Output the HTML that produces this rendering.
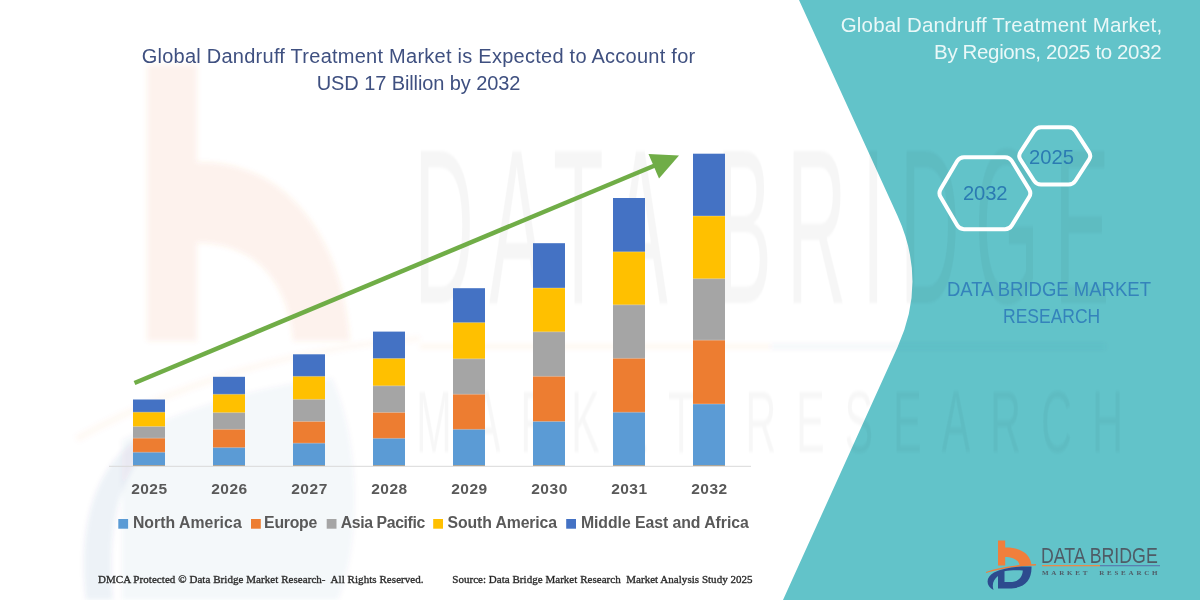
<!DOCTYPE html>
<html><head><meta charset="utf-8">
<style>
*{margin:0;padding:0;box-sizing:border-box}
html,body{width:1200px;height:600px;overflow:hidden;background:#fff}
body{position:relative;font-family:"Liberation Sans",sans-serif}
.abs{position:absolute;left:0;top:0}
.t{position:absolute;white-space:nowrap;line-height:1}
</style></head><body>
<svg class="abs" width="1200" height="600" viewBox="0 0 1200 600">
<path d="M799,0 L897.4,215.6 Q927.4,281.2 897.7,346.8 L783,600 L1200,600 L1200,0 Z" fill="#62C3C9"/>
<defs><filter id="bl" x="-20%" y="-20%" width="140%" height="140%"><feGaussianBlur stdDeviation="2.5"/></filter></defs>
<g filter="url(#bl)">
<rect x="147" y="65" width="50" height="276" fill="rgba(237,125,49,0.09)"/>
<path d="M197,162 C282,160 342,232 350,341 L293,341 C289,290 262,243 197,243 Z" fill="rgba(237,125,49,0.09)"/>
<path d="M75,436 Q230,350 420,336 L420,341 Q235,356 78,442 Z" fill="rgba(237,125,49,0.045)"/>
<path d="M86,600 C78,530 92,470 138,438 L140,458 C114,490 108,545 113,600 Z" fill="rgba(47,75,142,0.07)"/>
<path d="M122,600 L122,440 C190,405 262,386 332,378 C360,440 362,540 338,600 Z" fill="rgba(47,75,142,0.045)"/>
<rect x="420" y="344" width="350" height="5" fill="rgba(237,125,49,0.06)"/>
<rect x="770" y="344" width="335" height="5" fill="rgba(47,75,142,0.05)"/>
</g>
</svg>
<div class="t" id="w1" style="left:414.20px;top:117.00px;color:rgba(0,0,0,0.036);font-family:'Liberation Sans',sans-serif;font-size:220px;letter-spacing:40px;transform:scaleX(0.3766);transform-origin:0 0;filter:blur(1.5px)">DATA BRIDGE</div>
<div class="t" id="w2" style="left:416.46px;top:378.00px;color:rgba(0,0,0,0.03);font-family:'Liberation Sans',sans-serif;font-size:87px;letter-spacing:40px;transform:scaleX(0.4949);transform-origin:0 0;filter:blur(1.5px)">MARKET RESEARCH</div>
<svg class="abs" width="1200" height="600" viewBox="0 0 1200 600">
<line x1="109" y1="466.3" x2="751" y2="466.3" stroke="#D9D9D9" stroke-width="1"/>
<rect x="133" y="399.5" width="32" height="65.8" fill="#4472C4"/>
<rect x="133" y="412.2" width="32" height="53.1" fill="#FFC000"/>
<rect x="133" y="426.5" width="32" height="38.8" fill="#A5A5A5"/>
<rect x="133" y="438.2" width="32" height="27.1" fill="#ED7D31"/>
<rect x="133" y="452.3" width="32" height="13.0" fill="#5B9BD5"/>
<rect x="133" y="411.7" width="32" height="1" fill="rgba(255,255,255,0.28)"/>
<rect x="133" y="426.0" width="32" height="1" fill="rgba(255,255,255,0.28)"/>
<rect x="133" y="437.7" width="32" height="1" fill="rgba(255,255,255,0.28)"/>
<rect x="133" y="451.8" width="32" height="1" fill="rgba(255,255,255,0.28)"/>
<rect x="213" y="376.8" width="32" height="88.5" fill="#4472C4"/>
<rect x="213" y="394.3" width="32" height="71.0" fill="#FFC000"/>
<rect x="213" y="412.6" width="32" height="52.7" fill="#A5A5A5"/>
<rect x="213" y="429.4" width="32" height="35.9" fill="#ED7D31"/>
<rect x="213" y="447.6" width="32" height="17.7" fill="#5B9BD5"/>
<rect x="213" y="393.8" width="32" height="1" fill="rgba(255,255,255,0.28)"/>
<rect x="213" y="412.1" width="32" height="1" fill="rgba(255,255,255,0.28)"/>
<rect x="213" y="428.9" width="32" height="1" fill="rgba(255,255,255,0.28)"/>
<rect x="213" y="447.1" width="32" height="1" fill="rgba(255,255,255,0.28)"/>
<rect x="293" y="354.3" width="32" height="111.0" fill="#4472C4"/>
<rect x="293" y="376.4" width="32" height="88.9" fill="#FFC000"/>
<rect x="293" y="399.4" width="32" height="65.9" fill="#A5A5A5"/>
<rect x="293" y="421.5" width="32" height="43.8" fill="#ED7D31"/>
<rect x="293" y="443.2" width="32" height="22.1" fill="#5B9BD5"/>
<rect x="293" y="375.9" width="32" height="1" fill="rgba(255,255,255,0.28)"/>
<rect x="293" y="398.9" width="32" height="1" fill="rgba(255,255,255,0.28)"/>
<rect x="293" y="421.0" width="32" height="1" fill="rgba(255,255,255,0.28)"/>
<rect x="293" y="442.7" width="32" height="1" fill="rgba(255,255,255,0.28)"/>
<rect x="373" y="331.6" width="32" height="133.7" fill="#4472C4"/>
<rect x="373" y="358.5" width="32" height="106.8" fill="#FFC000"/>
<rect x="373" y="385.8" width="32" height="79.5" fill="#A5A5A5"/>
<rect x="373" y="412.5" width="32" height="52.8" fill="#ED7D31"/>
<rect x="373" y="438.4" width="32" height="26.9" fill="#5B9BD5"/>
<rect x="373" y="358.0" width="32" height="1" fill="rgba(255,255,255,0.28)"/>
<rect x="373" y="385.3" width="32" height="1" fill="rgba(255,255,255,0.28)"/>
<rect x="373" y="412.0" width="32" height="1" fill="rgba(255,255,255,0.28)"/>
<rect x="373" y="437.9" width="32" height="1" fill="rgba(255,255,255,0.28)"/>
<rect x="453" y="288.2" width="32" height="177.1" fill="#4472C4"/>
<rect x="453" y="322.6" width="32" height="142.7" fill="#FFC000"/>
<rect x="453" y="358.8" width="32" height="106.5" fill="#A5A5A5"/>
<rect x="453" y="394.3" width="32" height="71.0" fill="#ED7D31"/>
<rect x="453" y="429.4" width="32" height="35.9" fill="#5B9BD5"/>
<rect x="453" y="322.1" width="32" height="1" fill="rgba(255,255,255,0.28)"/>
<rect x="453" y="358.3" width="32" height="1" fill="rgba(255,255,255,0.28)"/>
<rect x="453" y="393.8" width="32" height="1" fill="rgba(255,255,255,0.28)"/>
<rect x="453" y="428.9" width="32" height="1" fill="rgba(255,255,255,0.28)"/>
<rect x="533" y="243.2" width="32" height="222.1" fill="#4472C4"/>
<rect x="533" y="288.0" width="32" height="177.3" fill="#FFC000"/>
<rect x="533" y="331.8" width="32" height="133.5" fill="#A5A5A5"/>
<rect x="533" y="376.4" width="32" height="88.9" fill="#ED7D31"/>
<rect x="533" y="421.5" width="32" height="43.8" fill="#5B9BD5"/>
<rect x="533" y="287.5" width="32" height="1" fill="rgba(255,255,255,0.28)"/>
<rect x="533" y="331.3" width="32" height="1" fill="rgba(255,255,255,0.28)"/>
<rect x="533" y="375.9" width="32" height="1" fill="rgba(255,255,255,0.28)"/>
<rect x="533" y="421.0" width="32" height="1" fill="rgba(255,255,255,0.28)"/>
<rect x="613" y="198.0" width="32" height="267.3" fill="#4472C4"/>
<rect x="613" y="251.8" width="32" height="213.5" fill="#FFC000"/>
<rect x="613" y="304.8" width="32" height="160.5" fill="#A5A5A5"/>
<rect x="613" y="358.4" width="32" height="106.9" fill="#ED7D31"/>
<rect x="613" y="412.3" width="32" height="53.0" fill="#5B9BD5"/>
<rect x="613" y="251.3" width="32" height="1" fill="rgba(255,255,255,0.28)"/>
<rect x="613" y="304.3" width="32" height="1" fill="rgba(255,255,255,0.28)"/>
<rect x="613" y="357.9" width="32" height="1" fill="rgba(255,255,255,0.28)"/>
<rect x="613" y="411.8" width="32" height="1" fill="rgba(255,255,255,0.28)"/>
<rect x="693" y="153.7" width="32" height="311.6" fill="#4472C4"/>
<rect x="693" y="216.0" width="32" height="249.3" fill="#FFC000"/>
<rect x="693" y="278.7" width="32" height="186.6" fill="#A5A5A5"/>
<rect x="693" y="340.2" width="32" height="125.1" fill="#ED7D31"/>
<rect x="693" y="404.0" width="32" height="61.3" fill="#5B9BD5"/>
<rect x="693" y="215.5" width="32" height="1" fill="rgba(255,255,255,0.28)"/>
<rect x="693" y="278.2" width="32" height="1" fill="rgba(255,255,255,0.28)"/>
<rect x="693" y="339.7" width="32" height="1" fill="rgba(255,255,255,0.28)"/>
<rect x="693" y="403.5" width="32" height="1" fill="rgba(255,255,255,0.28)"/>
<line x1="134.5" y1="383" x2="656" y2="165" stroke="#70AD47" stroke-width="4.5"/>
<polygon points="648.5,154 679,155.5 659,178.5" fill="#70AD47"/>
<rect x="118.3" y="519" width="9.8" height="9.7" fill="#5B9BD5"/>
<rect x="251" y="519" width="9.8" height="9.7" fill="#ED7D31"/>
<rect x="326.7" y="519" width="9.8" height="9.7" fill="#A5A5A5"/>
<rect x="433.2" y="519" width="9.8" height="9.7" fill="#FFC000"/>
<rect x="566.2" y="519" width="9.8" height="9.7" fill="#4472C4"/>
<path d="M940.58,197.08 Q938.30,193.20 940.58,189.32 L957.22,161.08 Q959.50,157.20 964.00,157.20 L1005.00,157.20 Q1009.50,157.20 1011.85,161.04 L1029.15,189.36 Q1031.50,193.20 1029.15,197.04 L1011.85,225.36 Q1009.50,229.20 1005.00,229.20 L964.00,229.20 Q959.50,229.20 957.22,225.32 Z" fill="none" stroke="#fff" stroke-width="4"/>
<path d="M1020.44,159.68 Q1018.00,155.90 1020.44,152.12 L1034.06,131.08 Q1036.50,127.30 1041.00,127.30 L1068.50,127.30 Q1073.00,127.30 1075.44,131.08 L1089.06,152.12 Q1091.50,155.90 1089.06,159.68 L1075.44,180.72 Q1073.00,184.50 1068.50,184.50 L1041.00,184.50 Q1036.50,184.50 1034.06,180.72 Z" fill="none" stroke="#fff" stroke-width="4"/>
<g id="logo">
<rect x="998" y="540.5" width="7.2" height="25" fill="#F07F3C"/>
<path d="M1005,547.6 C1021,547.2 1030.5,554 1031.5,565 L1019.5,565 C1018.5,560 1013,557 1005,557 Z" fill="#F07F3C"/>
<path d="M986,572 Q1004,565 1036,564 L1036,565.6 Q1008,566.5 986,573 Z" fill="#F07F3C"/>
<path fill-rule="evenodd" fill="#2D4B8E" d="M1031.5,566.5 C1032,581 1024,588.5 1009,588.5 L998,588.5 L998,576 C994,579 991.5,584 993.5,590 C985.5,586 985.5,577 994,572.5 C1004,567.5 1018,566 1031.5,566.5 Z M1004.5,571.3 L1004.5,582 L1010,582 C1018,582 1022.5,577.5 1022.8,570.5 C1015,570 1009,570.5 1004.5,571.3 Z"/>
<rect x="1042" y="565" width="58" height="1.3" fill="#E8894A"/>
<rect x="1100" y="565" width="60" height="1.3" fill="#5A7FB0"/>
</g>
</svg>
<div class="t" id="t1" style="left:141.64px;top:45.50px;color:#3F5080;font-family:'Liberation Sans',sans-serif;font-size:20px;letter-spacing:0.255px">Global Dandruff Treatment Market is Expected to Account for</div>
<div class="t" id="t2" style="left:316.75px;top:73.00px;color:#3F5080;font-family:'Liberation Sans',sans-serif;font-size:20px;letter-spacing:-0.098px">USD 17 Billion by 2032</div>
<div class="t" id="y0" style="left:131.16px;top:481.00px;color:#595959;font-family:'Liberation Sans',sans-serif;font-size:15.5px;font-weight:bold;letter-spacing:0.489px">2025</div>
<div class="t" id="y1" style="left:211.16px;top:481.00px;color:#595959;font-family:'Liberation Sans',sans-serif;font-size:15.5px;font-weight:bold;letter-spacing:0.533px">2026</div>
<div class="t" id="y2" style="left:291.16px;top:481.00px;color:#595959;font-family:'Liberation Sans',sans-serif;font-size:15.5px;font-weight:bold;letter-spacing:0.556px">2027</div>
<div class="t" id="y3" style="left:371.16px;top:481.00px;color:#595959;font-family:'Liberation Sans',sans-serif;font-size:15.5px;font-weight:bold;letter-spacing:0.525px">2028</div>
<div class="t" id="y4" style="left:451.16px;top:481.00px;color:#595959;font-family:'Liberation Sans',sans-serif;font-size:15.5px;font-weight:bold;letter-spacing:0.533px">2029</div>
<div class="t" id="y5" style="left:531.16px;top:481.00px;color:#595959;font-family:'Liberation Sans',sans-serif;font-size:15.5px;font-weight:bold;letter-spacing:0.557px">2030</div>
<div class="t" id="y6" style="left:611.16px;top:481.00px;color:#595959;font-family:'Liberation Sans',sans-serif;font-size:15.5px;font-weight:bold;letter-spacing:0.472px">2031</div>
<div class="t" id="y7" style="left:691.16px;top:481.00px;color:#595959;font-family:'Liberation Sans',sans-serif;font-size:15.5px;font-weight:bold;letter-spacing:0.535px">2032</div>
<div class="t" id="l0" style="left:132.92px;top:514.70px;color:#595959;font-family:'Liberation Sans',sans-serif;font-size:15.8px;font-weight:bold;letter-spacing:0.041px">North America</div>
<div class="t" id="l1" style="left:264.12px;top:514.70px;color:#595959;font-family:'Liberation Sans',sans-serif;font-size:15.8px;font-weight:bold;letter-spacing:-0.243px">Europe</div>
<div class="t" id="l2" style="left:340.84px;top:514.70px;color:#595959;font-family:'Liberation Sans',sans-serif;font-size:15.8px;font-weight:bold;letter-spacing:-0.394px">Asia Pacific</div>
<div class="t" id="l3" style="left:447.57px;top:514.70px;color:#595959;font-family:'Liberation Sans',sans-serif;font-size:15.8px;font-weight:bold;letter-spacing:-0.117px">South America</div>
<div class="t" id="l4" style="left:580.92px;top:514.70px;color:#595959;font-family:'Liberation Sans',sans-serif;font-size:15.8px;font-weight:bold;letter-spacing:-0.046px">Middle East and Africa</div>
<div class="t" id="f1" style="left:97.93px;top:573.60px;color:#1F1F1F;font-family:'Liberation Serif',serif;font-size:11px;letter-spacing:0.054px;-webkit-text-stroke:0.35px #333">DMCA Protected &copy; Data Bridge Market Research-&nbsp; All Rights Reserved.</div>
<div class="t" id="f2" style="left:452.25px;top:573.60px;color:#1F1F1F;font-family:'Liberation Serif',serif;font-size:11px;letter-spacing:0.030px;-webkit-text-stroke:0.35px #333">Source: Data Bridge Market Research&nbsp; Market Analysis Study 2025</div>
<div class="t" id="r1" style="left:840.70px;top:14.80px;color:#EAF8F8;font-family:'Liberation Sans',sans-serif;font-size:20.5px;letter-spacing:0.195px">Global Dandruff Treatment Market,</div>
<div class="t" id="r2" style="left:934.11px;top:41.50px;color:#EAF8F8;font-family:'Liberation Sans',sans-serif;font-size:20.5px;letter-spacing:-0.368px">By Regions, 2025 to 2032</div>
<div class="t" id="h1" style="left:962.98px;top:183.00px;color:#2B7BB2;font-family:'Liberation Sans',sans-serif;font-size:20.2px;letter-spacing:-0.114px">2032</div>
<div class="t" id="h2" style="left:1028.98px;top:147.00px;color:#2B7BB2;font-family:'Liberation Sans',sans-serif;font-size:20.2px;letter-spacing:0.007px">2025</div>
<div class="t" id="d1" style="left:947.48px;top:278.60px;color:#3483BB;font-family:'Liberation Sans',sans-serif;font-size:20.2px;transform:scaleX(0.9168);transform-origin:0 0">DATA BRIDGE MARKET</div>
<div class="t" id="d2" style="left:1003.06px;top:305.80px;color:#3483BB;font-family:'Liberation Sans',sans-serif;font-size:20.2px;transform:scaleX(0.8669);transform-origin:0 0">RESEARCH</div>
<div class="t" id="g1" style="left:1041.04px;top:544.50px;color:#4F5B66;font-family:'Liberation Sans',sans-serif;font-size:22.6px;transform:scaleX(0.7857);transform-origin:0 0">DATA BRIDGE</div>
<div class="t" id="g2" style="left:1041.94px;top:570.30px;color:#4F5B66;font-family:'Liberation Serif',serif;font-size:7px;font-weight:bold;letter-spacing:2.779px">MARKET&nbsp; RESEARCH</div>
</body></html>
